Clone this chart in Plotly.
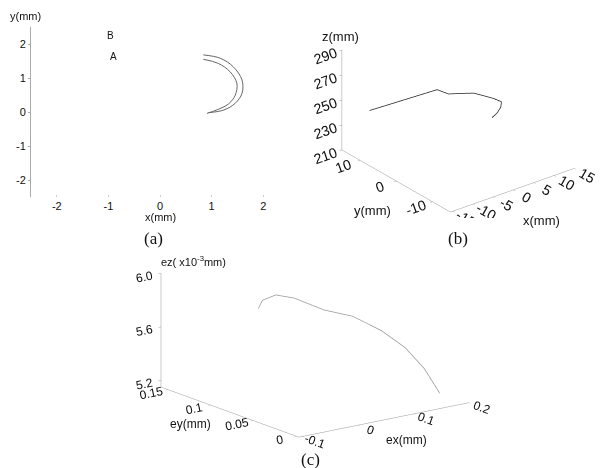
import plotly.graph_objects as go

# ---------- panel (a): x-y projection ----------
a_outer_x = [0.84, 1.17, 1.42, 1.59, 1.59, 1.46, 1.24, 0.94]
a_outer_y = [1.68, 1.58, 1.33, 0.94, 0.55, 0.26, 0.06, -0.02]
a_inner_x = [0.84, 1.13, 1.36, 1.49, 1.46, 1.33, 1.10, 0.91]
a_inner_y = [1.55, 1.43, 1.18, 0.84, 0.50, 0.24, 0.06, -0.04]
a_ticks = [-2, -1, 0, 1, 2]
a_ticklabels = ["-2", "-1", "0", "1", "2"]

# ---------- panel (b): 3-D tool path ----------
b_x = [-12.5, 3.4, 4.0, 6.0, 8.1, 9.7, 10.0, 8.5, 6.5, 4.3]
b_y = [10.8, 9.9, 7.4, 6.3, 5.0, 1.3, -0.5, -2.0, -3.3, -4.25]
b_z = [245, 245, 245, 245, 245, 245, 245, 245, 245, 245]
b_xticks = [-15, -10, -5, 0, 5, 10, 15]
b_xlabels = ["-15", "-10", "-5", "0", "5", "10", "15"]
b_yticks = [-10, 0, 10]
b_ylabels = ["-10", "0", "10"]
b_zticks = [210, 230, 250, 270, 290]

# ---------- panel (c): error path ----------
c_ex = [-0.02, -0.013, 0.0035, 0.029, 0.067, 0.1035, 0.132, 0.151, 0.167, 0.175]
c_ey = [0.10, 0.10, 0.095, 0.09, 0.08, 0.07, 0.055, 0.04, 0.028, 0.015]
c_ez = [5.80, 5.855, 5.893, 5.859, 5.762, 5.707, 5.61, 5.504, 5.362, 5.2]
c_exticks = [-0.1, 0, 0.1, 0.2]
c_exlabels = ["-0.1", "0", "0.1", "0.2"]
c_eyticks = [0, 0.05, 0.1, 0.15]
c_eylabels = ["0", "0.05", "0.1", "0.15"]
c_ezticks = [5.2, 5.6, 6.0]
c_ezlabels = ["5.2", "5.6", "6.0"]

W, H, OFF = 608, 468, 8  # page body margin shifts the figure by 8 px


def px(s):
    return min(1.0, max(0.0, (s - OFF) / W))


def py(s):
    return min(1.0, max(0.0, 1 - (s - OFF) / H))


SANS = "Liberation Sans"
SERIF = "Liberation Serif"
TF = dict(family=SANS, size=11, color="#111")
TFB = dict(family=SANS, size=13, color="#111")
TFC = dict(family=SANS, size=12, color="#111")

fig = go.Figure()

fig.add_trace(go.Scatter(x=a_outer_x, y=a_outer_y, mode="lines",
                         line=dict(color="#666", width=1, shape="spline"),
                         xaxis="x", yaxis="y", hoverinfo="skip"))
fig.add_trace(go.Scatter(x=a_inner_x, y=a_inner_y, mode="lines",
                         line=dict(color="#666", width=1, shape="spline"),
                         xaxis="x", yaxis="y", hoverinfo="skip"))

fig.add_trace(go.Scatter3d(x=b_x, y=b_y, z=b_z, mode="lines",
                           line=dict(color="#222", width=1.5), scene="scene"))
fig.add_trace(go.Scatter3d(x=c_ex, y=c_ey, z=c_ez, mode="lines",
                           line=dict(color="#999", width=1.5), scene="scene2"))


def ax3(ticks, rng, labels, font):
    return dict(range=rng, tickvals=ticks, ticktext=labels, showgrid=False,
                showbackground=False, zeroline=False, showline=True,
                linecolor="#999", linewidth=1, ticks="outside", ticklen=3,
                tickcolor="#999", tickfont=font, showspikes=False,
                title=dict(text=""))


fig.update_layout(
    width=W, height=H,
    margin=dict(l=0, r=0, t=0, b=0),
    paper_bgcolor="white", plot_bgcolor="white",
    showlegend=False,
    xaxis=dict(domain=[px(31), px(289)], range=[-2.5, 2.5], tickvals=a_ticks,
               ticktext=a_ticklabels,
               showgrid=False, zeroline=False, showline=False,
               ticks="outside", ticklen=2, tickcolor="#ccc", tickfont=TF,
               anchor="free", position=py(194)),
    yaxis=dict(domain=[py(197), py(27)], range=[-2.5, 2.5], tickvals=a_ticks,
               ticktext=a_ticklabels,
               showgrid=False, zeroline=False, showline=True,
               linecolor="#aaa", linewidth=1,
               ticks="outside", ticklen=2, tickcolor="#aaa", tickfont=TF,
               anchor="x"),
    scene=dict(
        domain=dict(x=[px(300), 1.0], y=[py(225), 1.0]),
        xaxis=ax3(b_xticks, [-15.6, 15], b_xlabels, TFB),
        yaxis=ax3(b_yticks, [-15, 15], b_ylabels, TFB),
        zaxis=ax3(b_zticks, [210, 290], b_zticks, TFB),
        aspectmode="manual", aspectratio=dict(x=1.45, y=1.62, z=1.03),
        camera=dict(eye=dict(x=-1.54, y=-1.96, z=1.18),
                    center=dict(x=0, y=0, z=-0.075),
                    up=dict(x=0, y=0, z=1),
                    projection=dict(type="orthographic")),
        bgcolor="white",
    ),
    scene2=dict(
        domain=dict(x=[px(315 - 190), px(315 + 190)],
                    y=[py(338 + 120), py(338 - 120)]),
        xaxis=ax3(c_exticks, [-0.106, 0.2], c_exlabels, TFC),
        yaxis=ax3(c_eyticks, [-0.003, 0.158], c_eylabels, TFC),
        zaxis=ax3(c_ezticks, [5.15, 6.0], c_ezlabels, TFC),
        aspectmode="manual", aspectratio=dict(x=1.77, y=1.92, z=0.985),
        camera=dict(eye=dict(x=-1.36, y=-1.82, z=0.64),
                    up=dict(x=0, y=0, z=1),
                    projection=dict(type="orthographic")),
        bgcolor="white",
    ),
)

ann = [
    dict(text="y(mm)", x=25, y=16, font=TF),
    dict(text="x(mm)", x=160, y=217, font=TF),
    dict(text="(a)", x=153, y=238, font=dict(family=SERIF, size=17, color="#111")),
    dict(text="B", x=110, y=35, font=dict(family=SANS, size=10, color="#111")),
    dict(text="A", x=113, y=57, font=dict(family=SANS, size=10, color="#111")),
    dict(text="z(mm)", x=340, y=36, font=TFB),
    dict(text="y(mm)", x=372, y=210, font=TFB),
    dict(text="x(mm)", x=541, y=221, font=TFB),
    dict(text="(b)", x=458, y=238, font=dict(family=SERIF, size=17, color="#111")),
    dict(text="ez( x10<sup>-3</sup>mm)", x=193, y=261, font=TF),
    dict(text="ey(mm)", x=190, y=424, font=TFC),
    dict(text="ex(mm)", x=406, y=440, font=TFC),
    dict(text="(c)", x=310, y=459, font=dict(family=SERIF, size=17, color="#111")),
]
fig.update_layout(annotations=[
    dict(text=a["text"], x=px(a["x"]), y=py(a["y"]), xref="paper",
         yref="paper", showarrow=False, font=a["font"],
         xanchor="center", yanchor="middle") for a in ann
])

fig.write_html("out.html")
